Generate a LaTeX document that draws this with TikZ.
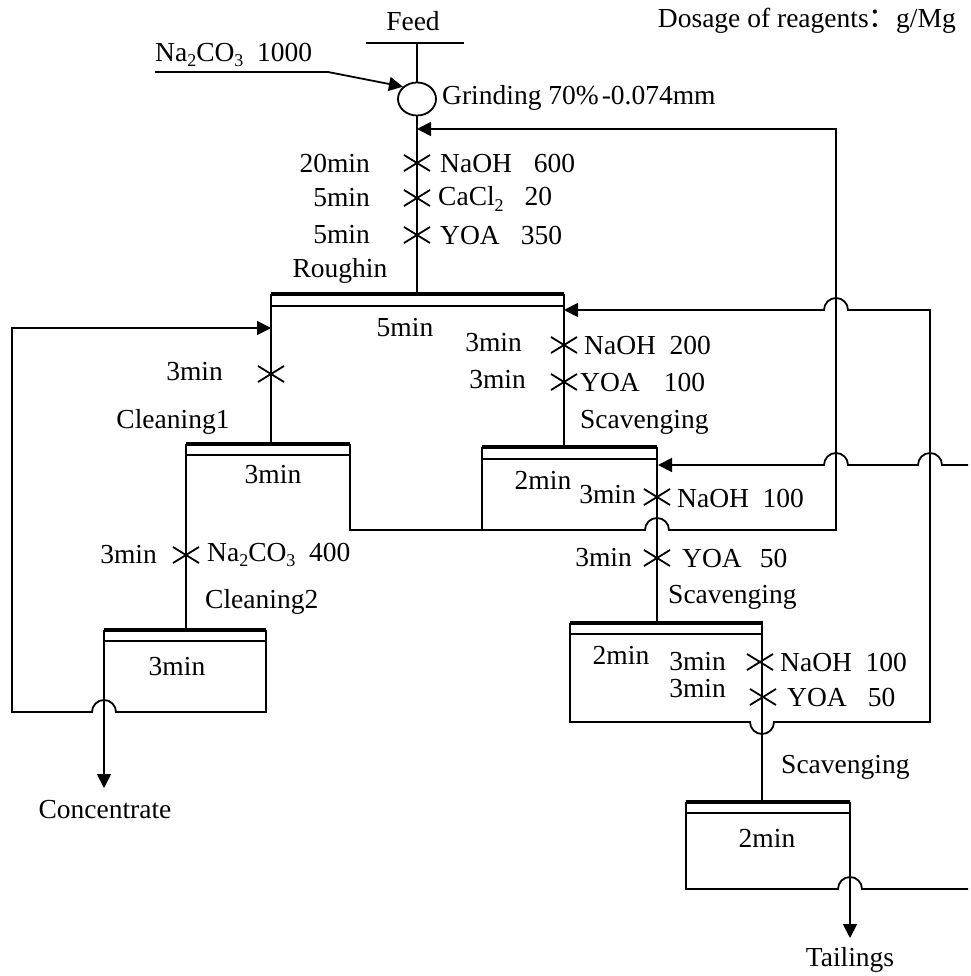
\documentclass[tikz,border=0pt]{standalone}
\usepackage{fontspec}
\setmainfont{Liberation Serif}
\newfontfamily\cjk{Noto Sans CJK SC}
\usetikzlibrary{arrows.meta,shapes.geometric}
\newcommand\sbs[1]{\raisebox{-0.2em}{\fontsize{18}{18}\selectfont #1}}
\begin{document}
\begin{tikzpicture}[x=1pt,y=1pt,
  every node/.style={font=\fontsize{27.5}{30}\selectfont, inner sep=0pt},
  ln/.style={line width=1.8pt},
  barline/.style={line width=4.5pt},
  arr/.style={ln,-{Triangle[length=14pt,width=14pt]}},
  xm/.pic={\draw[ln] (-13,-8)--(13,8) (-13,8)--(13,-8);}
]
\useasboundingbox (0,0) rectangle (970,-976);

% ---------- top ----------
\node (feed) at (413,-21) {Feed};
\node[anchor=east] (dosage) at (956,-21) {Dosage of reagents{\cjk ：}g/Mg};
\coordinate (fl) at (366,-43); \coordinate (fr) at (464,-43); \coordinate (ft) at (417,-43);
\draw[ln] (fl) -- (fr);
\node[ellipse,draw,ln,minimum width=38pt,minimum height=33pt] (grind) at (417,-99) {};
\draw[ln] (ft) -- (grind.north);
\node[anchor=west] (grindtxt) at (442,-98) {Grinding 70\%\kern3pt-0.074mm};
\node[anchor=west] (soda) at (155,-55) {Na\sbs{2}CO\sbs{3}\ \ 1000};
\coordinate (s0) at (155,-72); \coordinate (s1) at (328,-72);
\draw[arr] (s0) -- (s1) -- (grind.north west);

% ---------- roughing ----------
\coordinate (rl) at (271,-294); \coordinate (rr) at (564,-294); \coordinate (rm) at (417,-294);
\draw[barline] (rl) -- (rr);
\draw[ln] (271,-306) -- (564,-306);
\draw[ln] (grind.south) -- (rm);
\pic at (417,-163) {xm}; \pic at (417,-198) {xm}; \pic at (417,-235) {xm};
\node[anchor=east] (t1) at (370,-163) {20min};
\node[anchor=east] (t2) at (370,-198) {5min};
\node[anchor=east] (t3) at (370,-235) {5min};
\node[anchor=west] (r1) at (440,-163) {NaOH\hspace{22pt}600};
\node[anchor=west] (r2) at (438,-199) {CaCl\sbs{2}\hspace{21pt}20};
\node[anchor=west] (r3) at (440,-235) {YOA\hspace{21pt}350};
\node (roughtxt) at (340,-271) {Roughin};
\node (rt) at (405,-328) {5min};

% ---------- cleaning 1 ----------
\coordinate (c1l) at (186,-444); \coordinate (c1r) at (350,-444); \coordinate (c1m) at (271,-444);
\draw[barline] (c1l) -- (c1r);
\draw[ln] (186,-455) -- (350,-455);
\draw[ln] (rl) -- (c1m);
\pic at (271,-374) {xm};
\node[anchor=east] (t4) at (223,-372) {3min};
\node (c1txt) at (173,-422) {Cleaning1};
\node (c1t) at (273,-475) {3min};

% ---------- cleaning 2 ----------
\coordinate (c2l) at (104,-630); \coordinate (c2r) at (266,-630); \coordinate (c2m) at (186,-630);
\draw[barline] (c2l) -- (c2r);
\draw[ln] (104,-641) -- (266,-641);
\draw[ln] (c1l) -- (c2m);
\pic at (186,-555) {xm};
\node[anchor=east] (t5) at (157,-555) {3min};
\node[anchor=west] (r4) at (207,-555) {Na\sbs{2}CO\sbs{3}\ \ 400};
\node[anchor=west] (c2txt) at (205,-602) {Cleaning2};
\node (c2t) at (177,-667) {3min};
\node (conc) at (105,-810) {Concentrate};
\coordinate (concend) at (104,-788);
\draw[arr] (c2l) -- (concend);
% cleaning 2 tailing back to cleaning-1 feed line
\coordinate (k1) at (266,-712); \coordinate (k2) at (12,-712); \coordinate (k3) at (12,-328); \coordinate (k4) at (271,-328);
\draw[arr] (c2r) -- (k1) -- (116,-712) arc[start angle=0,end angle=180,radius=12] -- (k2) -- (k3) -- (k4);

% ---------- scavenging 1 ----------
\coordinate (s1l) at (482,-447); \coordinate (s1r) at (657,-447); \coordinate (s1m) at (564,-447);
\draw[barline] (s1l) -- (s1r);
\draw[ln] (482,-459) -- (657,-459);
\draw[ln] (rr) -- (s1m);
\pic at (564,-345) {xm}; \pic at (564,-382) {xm};
\node[anchor=east] (t6) at (522,-343) {3min};
\node[anchor=east] (t7) at (526,-380) {3min};
\node[anchor=west] (r5) at (584,-345) {NaOH\ \ 200};
\node[anchor=west] (r6) at (580,-382) {YOA\hspace{24pt}100};
\node[anchor=west] (sc1txt) at (580,-422) {Scavenging};
\node (s1t) at (543,-480) {2min};
\coordinate (s1b) at (482,-530);
\draw[ln] (s1l) -- (s1b);
% cleaning 1 tailing to regrinding
\coordinate (g1) at (350,-530); \coordinate (g2) at (836,-530); \coordinate (g3) at (836,-129); \coordinate (g4) at (417,-129);
\draw[arr] (c1r) -- (g1) -- (645,-530) arc[start angle=180,end angle=0,radius=12] -- (g2) -- (g3) -- (g4);

% ---------- scavenging 2 ----------
\coordinate (s2l) at (570,-623); \coordinate (s2r) at (762,-623); \coordinate (s2m) at (657,-623);
\draw[barline] (s2l) -- (763,-623);
\draw[ln] (570,-634) -- (763,-634);
\draw[ln] (s1r) -- (s2m);
\pic at (657,-497) {xm}; \pic at (657,-558) {xm};
\node[anchor=east] (t8) at (636,-495) {3min};
\node[anchor=west] (r7) at (677,-498) {NaOH\ \ 100};
\node[anchor=east] (t9) at (632,-558) {3min};
\node[anchor=west] (r8) at (682,-558) {YOA\hspace{18pt}50};
\node[anchor=west] (sc2txt) at (668,-597) {Scavenging};
\node (s2t) at (621,-655) {2min};
% scav 1 feed from right
\coordinate (h1) at (968,-465); \coordinate (h2) at (658,-465);
\draw[arr] (h1) -- (942,-465) arc[start angle=0,end angle=180,radius=12] -- (848,-465) arc[start angle=0,end angle=180,radius=12] -- (h2);
% scav 2 tailing back to roughing
\coordinate (v1) at (570,-722); \coordinate (v2) at (930,-722); \coordinate (v3) at (930,-310); \coordinate (v4) at (564,-310);
\draw[arr] (s2l) -- (v1) -- (750,-722) arc[start angle=180,end angle=360,radius=12] -- (v2) -- (v3) -- (848,-310) arc[start angle=0,end angle=180,radius=12] -- (v4);

% ---------- scavenging 3 ----------
\coordinate (s3l) at (686,-802); \coordinate (s3r) at (850,-802); \coordinate (s3m) at (762,-802);
\draw[barline] (s3l) -- (s3r);
\draw[ln] (686,-813) -- (850,-813);
\draw[ln] (s2r) -- (s3m);
\pic at (760,-662) {xm}; \pic at (763,-697) {xm};
\node[anchor=east] (t10) at (726,-662) {3min};
\node[anchor=east] (t11) at (726,-689) {3min};
\node[anchor=west] (r9) at (780,-662) {NaOH\ \ 100};
\node[anchor=west] (r10) at (787,-697) {YOA\hspace{21pt}50};
\node[anchor=west] (sc3txt) at (781,-767) {Scavenging};
\node (s3t) at (767,-838) {2min};
\coordinate (u1) at (686,-889); \coordinate (u2) at (968,-889);
\draw[ln] (s3l) -- (u1) -- (838,-889) arc[start angle=180,end angle=0,radius=12] -- (u2);
\coordinate (tailend) at (850,-938);
\draw[arr] (s3r) -- (tailend);
\node (tail) at (850,-960) {Tailings};
\end{tikzpicture}
\end{document}
